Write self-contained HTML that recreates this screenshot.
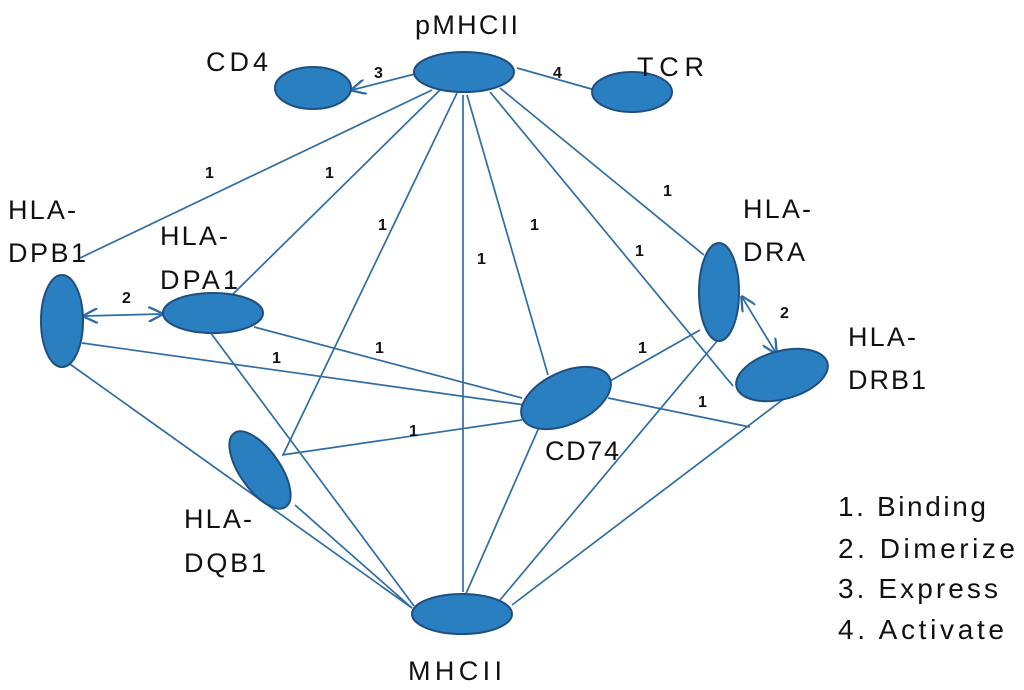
<!DOCTYPE html>
<html><head><meta charset="utf-8"><style>
body{margin:0;background:#fff;}
svg{display:block;font-family:"Liberation Sans",sans-serif;}
.t{font-size:27px;fill:#111;}
.n{font-size:16px;font-weight:bold;fill:#111;}
.l{font-size:28px;fill:#111;}
</style></head><body>
<svg width="1024" height="690" viewBox="0 0 1024 690">
<defs><marker id="a" viewBox="0 0 10 10" refX="9" refY="5" markerWidth="9" markerHeight="9" orient="auto-start-reverse"><path d="M0,0 L10,5 L0,10" fill="none" stroke="#2e6da4" stroke-width="1.5"/></marker></defs>
<g stroke="#2e6da4" stroke-width="1.7" fill="none">
<line x1="432" y1="90" x2="80" y2="258"/>
<line x1="440" y1="90" x2="232" y2="295"/>
<line x1="457" y1="93" x2="283" y2="455"/>
<line x1="463" y1="95" x2="463" y2="592"/>
<line x1="467" y1="95" x2="548" y2="375"/>
<line x1="500" y1="88" x2="704" y2="255"/>
<line x1="490" y1="92" x2="733" y2="386"/>
<line x1="415" y1="74" x2="352" y2="90" marker-end="url(#a)"/>
<line x1="517" y1="68" x2="595" y2="90"/>
<line x1="84" y1="316" x2="162" y2="314" marker-start="url(#a)" marker-end="url(#a)"/>
<line x1="742" y1="297" x2="776" y2="353" marker-start="url(#a)" marker-end="url(#a)"/>
<line x1="82" y1="343" x2="525" y2="405"/>
<line x1="254" y1="327" x2="522" y2="398"/>
<line x1="67" y1="362" x2="412" y2="608"/>
<line x1="210" y1="332" x2="414" y2="606"/>
<line x1="282" y1="455" x2="522" y2="420"/>
<line x1="295" y1="505" x2="412" y2="608"/>
<line x1="603" y1="385" x2="700" y2="330"/>
<line x1="608" y1="398" x2="750" y2="427"/>
<line x1="785" y1="398" x2="512" y2="605"/>
<line x1="718" y1="340" x2="500" y2="600"/>
<line x1="540" y1="425" x2="465" y2="596"/>
</g>
<g fill="#2a7fc0" stroke="#1f4f80" stroke-width="2">
<ellipse cx="464" cy="72" rx="50" ry="20"/>
<ellipse cx="313" cy="88" rx="38" ry="21"/>
<ellipse cx="632" cy="92" rx="40" ry="20"/>
<ellipse cx="62" cy="321" rx="21" ry="46"/>
<ellipse cx="213" cy="313" rx="50" ry="20"/>
<ellipse cx="719" cy="292" rx="20" ry="49"/>
<ellipse cx="782" cy="375" rx="47" ry="24" transform="rotate(-15 782 375)"/>
<ellipse cx="566" cy="398" rx="48" ry="26" transform="rotate(-25 566 398)"/>
<ellipse cx="260" cy="470" rx="20" ry="45" transform="rotate(-35 260 470)"/>
<ellipse cx="462" cy="614" rx="50" ry="20"/>
</g>
<text class="t" x="415" y="34" textLength="103">pMHCII</text>
<text class="t" x="206" y="71" textLength="62">CD4</text>
<text class="t" x="637" y="76" textLength="67">TCR</text>
<text class="t" x="8" y="219" textLength="68">HLA-</text><text class="t" x="8" y="262" textLength="78">DPB1</text>
<text class="t" x="160" y="245" textLength="68">HLA-</text><text class="t" x="160" y="289" textLength="78">DPA1</text>
<text class="t" x="743" y="218" textLength="68">HLA-</text><text class="t" x="743" y="261" textLength="62">DRA</text>
<text class="t" x="848" y="346" textLength="68">HLA-</text><text class="t" x="848" y="389" textLength="78">DRB1</text>
<text class="t" x="545" y="460" textLength="74">CD74</text>
<text class="t" x="184" y="528" textLength="68">HLA-</text><text class="t" x="184" y="572" textLength="82">DQB1</text>
<text class="t" x="408" y="680" textLength="94">MHCII</text>
<g class="n">
<text x="205" y="178">1</text><text x="325" y="178">1</text><text x="378" y="230">1</text>
<text x="477" y="264">1</text><text x="530" y="230">1</text><text x="663" y="196">1</text>
<text x="635" y="256">1</text><text x="272" y="363">1</text><text x="375" y="353">1</text>
<text x="638" y="353">1</text><text x="698" y="407">1</text><text x="409" y="436">1</text>
<text x="122" y="303">2</text><text x="780" y="318">2</text>
<text x="374" y="78">3</text><text x="553" y="78">4</text>
</g>
<g class="l">
<text x="838" y="516" textLength="148">1. Binding</text>
<text x="838" y="558" textLength="177">2. Dimerize</text>
<text x="838" y="598" textLength="160">3. Express</text>
<text x="838" y="639" textLength="166">4. Activate</text>
</g>
</svg>
</body></html>
